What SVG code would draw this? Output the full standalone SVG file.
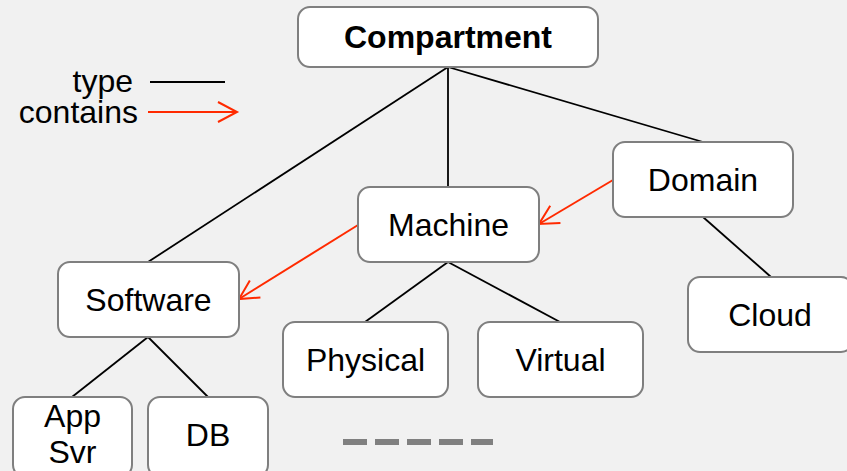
<svg xmlns="http://www.w3.org/2000/svg" width="847" height="471" viewBox="0 0 847 471">
<defs>
<style>
.node rect{fill:#ffffff;stroke:#7f7f7f;stroke-width:2}
text{font-family:"Liberation Sans",Arial,sans-serif;font-size:32px;fill:#000}
.t{text-anchor:middle}
.type{stroke:#000;stroke-width:1.8;fill:none}
.contains{stroke:#ff2a00;stroke-width:2;fill:none;marker-end:url(#arr)}
</style>
<marker id="arr" markerUnits="userSpaceOnUse" viewBox="-24 -14 28 28" refX="0" refY="0" markerWidth="28" markerHeight="28" orient="auto">
<path d="M-19,-10 L0,0 L-19,10" fill="none" stroke="#ff2a00" stroke-width="2"/>
</marker>
</defs>
<rect width="847" height="471" fill="#f1f1f1"/>
<g id="legend">
<text x="133" y="92" text-anchor="end" font-size="31">type</text>
<text x="138" y="123" text-anchor="end" font-size="31">contains</text>
<line class="type" x1="150" y1="82" x2="225" y2="82"/>
<line class="contains" x1="148" y1="112" x2="237" y2="112"/>
</g>
<g id="connectors">
<line class="type" x1="448" y1="67" x2="148" y2="262"/>
<line class="type" x1="448" y1="67" x2="448" y2="187"/>
<line class="type" x1="448" y1="67" x2="703" y2="142"/>
<line class="type" x1="703" y1="217" x2="771" y2="277"/>
<line class="type" x1="448" y1="262" x2="365" y2="322"/>
<line class="type" x1="448" y1="262" x2="560" y2="322"/>
<line class="type" x1="148" y1="337" x2="72" y2="397"/>
<line class="type" x1="148" y1="337" x2="208" y2="397"/>
<line class="contains" x1="613" y1="180" x2="539" y2="224"/>
<line class="contains" x1="358" y1="225" x2="239" y2="299"/>
</g>
<g id="compartment" class="node"><rect x="298" y="7" width="300" height="60" rx="12"/><text class="t" x="448" y="48" font-weight="bold">Compartment</text></g>
<g id="machine" class="node"><rect x="358" y="187" width="181" height="75" rx="12"/><text class="t" x="448.5" y="236">Machine</text></g>
<g id="domain" class="node"><rect x="613" y="142" width="180" height="75" rx="12"/><text class="t" x="703" y="191">Domain</text></g>
<g id="cloud" class="node"><rect x="688" y="277" width="165" height="75" rx="12"/><text class="t" x="770" y="326">Cloud</text></g>
<g id="software" class="node"><rect x="58" y="262" width="181" height="75" rx="12"/><text class="t" x="148.5" y="311">Software</text></g>
<g id="physical" class="node"><rect x="283" y="322" width="165" height="75" rx="12"/><text class="t" x="365.5" y="371">Physical</text></g>
<g id="virtual" class="node"><rect x="478" y="322" width="165" height="75" rx="12"/><text class="t" x="560.5" y="371">Virtual</text></g>
<g id="appsvr" class="node"><rect x="13" y="397" width="119" height="80" rx="12"/><text class="t" x="72.5" y="427">App</text><text class="t" x="72.5" y="463">Svr</text></g>
<g id="db" class="node"><rect x="148" y="397" width="120" height="80" rx="12"/><text class="t" x="208" y="446">DB</text></g>
<line x1="343" y1="442" x2="493" y2="442" stroke="#808080" stroke-width="6" stroke-dasharray="24 8"/>
</svg>
